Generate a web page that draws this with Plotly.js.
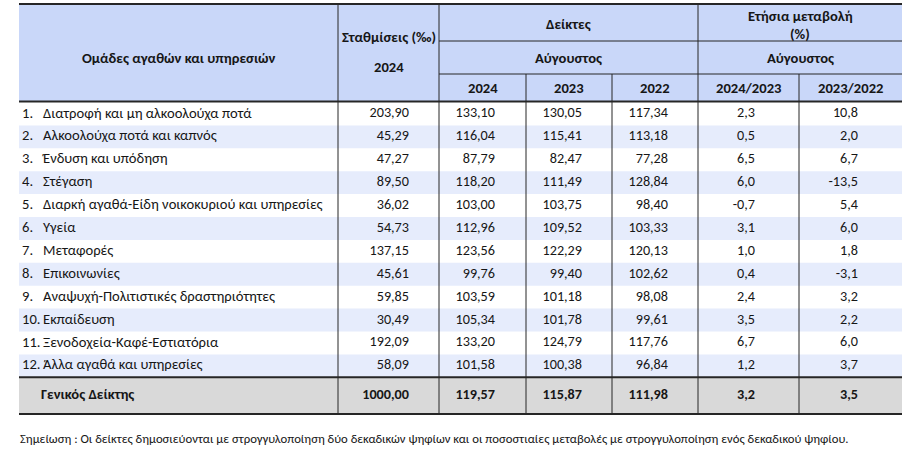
<!DOCTYPE html>
<html><head><meta charset="utf-8">
<script src="https://cdn.plot.ly/plotly-3.0.1.min.js"></script>
<style>html,body{margin:0;padding:0;background:#fff;overflow:hidden;} #chart{width:910px;height:454px;}</style>
</head><body><div id="chart"></div>
<script>
// ---------- data ----------
const categoryNumbers = ["1.","2.","3.","4.","5.","6.","7.","8.","9.","10.","11.","12."];
const categories = [
  "Διατροφή και μη αλκοολούχα ποτά",
  "Αλκοολούχα ποτά και καπνός",
  "Ένδυση και υπόδηση",
  "Στέγαση",
  "Διαρκή αγαθά-Είδη νοικοκυριού και υπηρεσίες",
  "Υγεία",
  "Μεταφορές",
  "Επικοινωνίες",
  "Αναψυχή-Πολιτιστικές δραστηριότητες",
  "Εκπαίδευση",
  "Ξενοδοχεία-Καφέ-Εστιατόρια",
  "Άλλα αγαθά και υπηρεσίες"
];
const weights2024 = [203.90, 45.29, 47.27, 89.50, 36.02, 54.73, 137.15, 45.61, 59.85, 30.49, 192.09, 58.09];
const index2024 = [133.10, 116.04, 87.79, 118.20, 103.00, 112.96, 123.56, 99.76, 103.59, 105.34, 133.20, 101.58];
const index2023 = [130.05, 115.41, 82.47, 111.49, 103.75, 109.52, 122.29, 99.40, 101.18, 101.78, 124.79, 100.38];
const index2022 = [117.34, 113.18, 77.28, 128.84, 98.40, 103.33, 120.13, 102.62, 98.08, 99.61, 117.76, 96.84];
const change2024_2023 = [2.3, 0.5, 6.5, 6.0, -0.7, 3.1, 1.0, 0.4, 2.4, 3.5, 6.7, 1.2];
const change2023_2022 = [10.8, 2.0, 6.7, -13.5, 5.4, 6.0, 1.8, -3.1, 3.2, 2.2, 6.0, 3.7];
const totalLabel = "Γενικός Δείκτης";
const totalValues = [1000.00, 119.57, 115.87, 111.98, 3.2, 3.5];
const totalDecimals = [2, 2, 2, 2, 1, 1];

const headerGroup = "Ομάδες αγαθών και υπηρεσιών";
const headerWeights = ["Σταθμίσεις (‰)", "2024"];
const headerIndices = ["Δείκτες", "Αύγουστος"];
const headerChange = ["Ετήσια μεταβολή", "(%)", "Αύγουστος"];
const yearLabels = ["2024", "2023", "2022"];
const changeLabels = ["2024/2023", "2023/2022"];
const footnote = "Σημείωση : Οι δείκτες δημοσιεύονται με στρογγυλοποίηση δύο δεκαδικών ψηφίων και οι ποσοστιαίες μεταβολές με στρογγυλοποίηση ενός δεκαδικού ψηφίου.";

// ---------- layout geometry ----------
const W = 910, H = 454;
const colEdges = [19, 338, 439, 526, 612, 698, 799, 902];
const headTop = 4, headRow1 = 41, headRow2 = 74, headBottom = 101.5;
const bodyTop = 102.5, rowH = 22.9;
const nRows = categories.length;
const bodyBottom = bodyTop + nRows * rowH;
const totalBottom = 414;
const numRight = [409, 495, 582, 668, 755, 858];

const FONT = "Calibri, Carlito, Lato, 'Noto Sans', sans-serif";
const TXT = "#161616";
const HEAD_BG = "#c9d7f9", BAND_BG = "#e6ecfc", TOTAL_BG = "#d9d9d9", LINE = "#262626";
const TEXT_SIZE = 14.6, NUM_SIZE = 14.2, HEAD_SIZE = 14.6, NOTE_SIZE = 12.7;

const rowY = categories.map((_, i) => bodyTop + (i + 0.5) * rowH);
const totalY = (bodyBottom + totalBottom) / 2;
const fmt = (v, d) => v.toFixed(d).replace('.', ',');

// ---------- traces ----------
const traces = [];
function textTrace(xs, ys, texts, pos, bold, size) {
  traces.push({
    type: 'scatter', mode: 'text', x: xs, y: ys,
    text: texts.map(t => bold ? '<b>' + t + '</b>' : t),
    textposition: pos, hoverinfo: 'skip', showlegend: false, cliponaxis: false,
    textfont: {family: FONT, size: size, color: TXT}
  });
}
textTrace(rowY.map(() => 22), rowY, categoryNumbers, 'middle right', false, TEXT_SIZE);
textTrace(rowY.map(() => 43), rowY, categories, 'middle right', false, TEXT_SIZE);
const numCols = [
  [weights2024, 2], [index2024, 2], [index2023, 2], [index2022, 2],
  [change2024_2023, 1], [change2023_2022, 1]
];
numCols.forEach((c, k) => {
  textTrace(rowY.map(() => numRight[k]), rowY, c[0].map(v => fmt(v, c[1])), 'middle left', false, NUM_SIZE);
});
// total row
textTrace([41], [totalY], [totalLabel], 'middle right', true, TEXT_SIZE);
textTrace(numRight, numRight.map(() => totalY), totalValues.map((v, k) => fmt(v, totalDecimals[k])), 'middle left', true, NUM_SIZE);

// ---------- shapes ----------
const shapes = [];
function rect(x0, x1, y0, y1, color) {
  shapes.push({type: 'rect', xref: 'x', yref: 'y', x0, x1, y0, y1, fillcolor: color, line: {width: 0}, layer: 'below'});
}
function line(x0, x1, y0, y1, w) {
  shapes.push({type: 'line', xref: 'x', yref: 'y', x0, x1, y0, y1, line: {color: LINE, width: w}});
}
const L = colEdges[0], R = colEdges[colEdges.length - 1];
rect(L, R, headTop, headBottom, HEAD_BG);
categories.forEach((_, i) => { if (i % 2 === 1) rect(L, R, bodyTop + i * rowH, bodyTop + (i + 1) * rowH, BAND_BG); });
rect(L, R, bodyBottom, totalBottom, TOTAL_BG);
// header inner lines
line(colEdges[2], R, headRow1, headRow1, 1);
line(colEdges[2], R, headRow2, headRow2, 1);
// vertical lines
[1, 2, 5].forEach(k => line(colEdges[k], colEdges[k], headTop, totalBottom, 1));
[3, 4, 6].forEach(k => line(colEdges[k], colEdges[k], headRow2, totalBottom, 1));
// thick horizontal lines
line(L, R, headTop, headTop, 2);
line(L, R, headBottom, headBottom, 2);
line(L, R, bodyBottom, bodyBottom, 2);
line(L, R, totalBottom, totalBottom, 2);

// ---------- annotations (header & footnote) ----------
const annotations = [];
function ann(text, x, y, bold, anchor) {
  annotations.push({xref: 'x', yref: 'y', x, y, text: bold ? '<b>' + text + '</b>' : text, showarrow: false,
    xanchor: anchor || 'center', yanchor: 'middle', font: {family: FONT, size: HEAD_SIZE, color: TXT}});
}
const mid = (a, b) => (a + b) / 2;
ann(headerGroup, mid(colEdges[0], colEdges[1]), 58, true);
ann(headerWeights[0], mid(colEdges[1], colEdges[2]), 37, true);
ann(headerWeights[1], mid(colEdges[1], colEdges[2]), 67, true);
ann(headerIndices[0], mid(colEdges[2], colEdges[5]), 24, true);
ann(headerIndices[1], mid(colEdges[2], colEdges[5]), 58, true);
ann(headerChange[0], mid(colEdges[5], colEdges[7]), 16, true);
ann(headerChange[1], mid(colEdges[5], colEdges[7]), 34, true);
ann(headerChange[2], mid(colEdges[5], colEdges[7]), 58, true);
yearLabels.forEach((t, k) => ann(t, mid(colEdges[2 + k], colEdges[3 + k]), 88, true));
changeLabels.forEach((t, k) => ann(t, mid(colEdges[5 + k], colEdges[6 + k]), 88, true));
annotations.push({xref: 'x', yref: 'y', x: 18, y: 438, text: footnote, showarrow: false, xanchor: 'left', yanchor: 'middle',
  font: {family: FONT, size: NOTE_SIZE, color: TXT}});

const layout = {
  width: W, height: H, margin: {l: 0, r: 0, t: 0, b: 0, pad: 0},
  paper_bgcolor: '#ffffff', plot_bgcolor: '#ffffff',
  xaxis: {range: [0, W], visible: false, fixedrange: true},
  yaxis: {range: [H, 0], visible: false, fixedrange: true},
  shapes, annotations, showlegend: false
};
Plotly.newPlot('chart', traces, layout, {staticPlot: true, displayModeBar: false});
</script></body></html>
